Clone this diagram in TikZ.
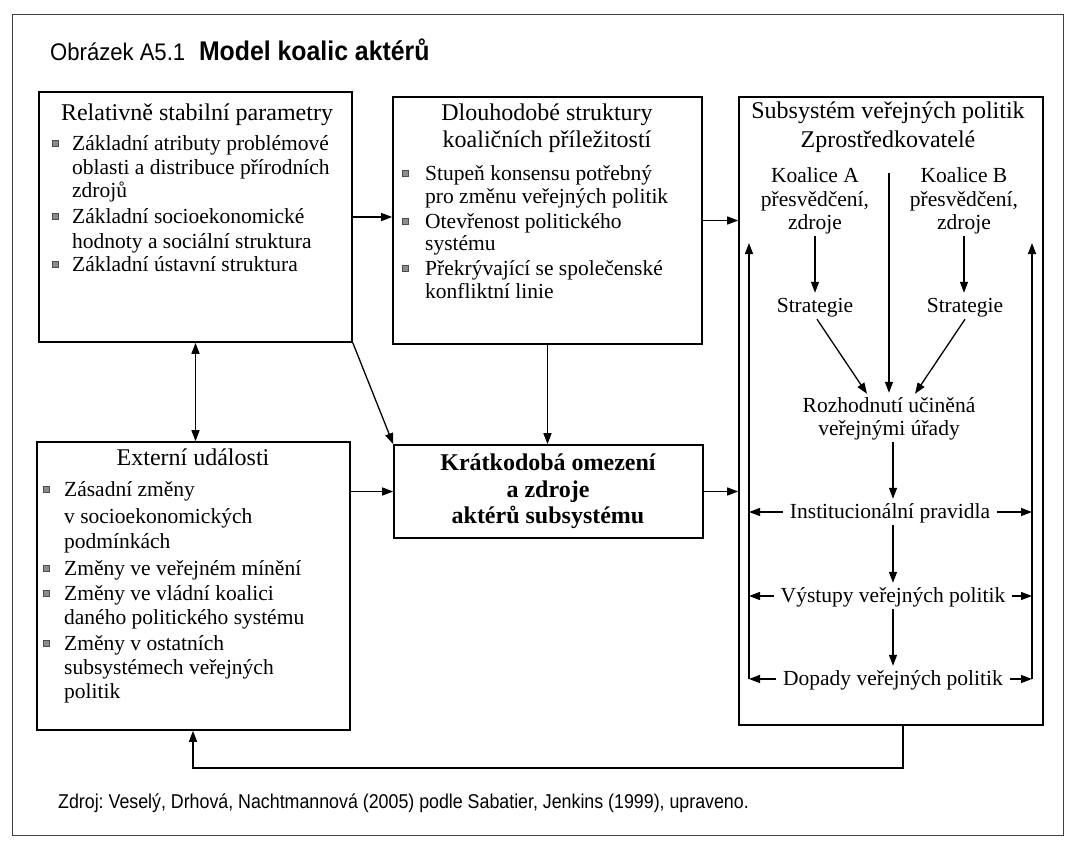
\documentclass[tikz,border=0pt]{standalone}
\usepackage{fontspec}
\usepackage{graphicx}
\setmainfont{Liberation Serif}
\setsansfont{Liberation Sans}
\usetikzlibrary{arrows.meta}
\frenchspacing
\begin{document}
\begin{tikzpicture}[x=1pt,y=-1pt,
  box/.style={draw, line width=1.6pt, inner sep=0pt, rectangle},
  arr/.style={line width=1.3pt, -{Triangle[length=11pt,width=8pt]}},
  darr/.style={line width=1.3pt, {Triangle[length=11pt,width=8pt]}-{Triangle[length=11pt,width=8pt]}},
  ttl/.style={font=\fontsize{24}{27}\selectfont, inner sep=0pt, anchor=base},
  txt/.style={font=\fontsize{21.5}{24}\selectfont, inner sep=0pt, anchor=base west},
  bld/.style={font=\fontsize{24}{27}\selectfont\bfseries, inner sep=0pt, anchor=base},
  lbl/.style={font=\fontsize{21.5}{24}\selectfont, inner xsep=7pt, inner ysep=3pt, text height=16pt, text depth=4pt, anchor=base},
  bul/.style={draw=black!70, fill=black!45, minimum size=6pt, inner sep=0pt, line width=0.6pt},
]
\useasboundingbox (0,0) rectangle (1066,841);
\fill[white] (0,0) rectangle (1066,841);
% outer frame
\draw[black!75, line width=0.8pt] (12,14) rectangle (1063,835);

% title
\node[font=\sffamily\fontsize{24}{28}\selectfont, inner sep=0pt, anchor=base west] (title) at (50,60)
  {\scalebox{0.92}[1]{Obrázek A5.1\hspace{15pt}{\fontsize{27}{30}\selectfont\bfseries Model koalic aktérů}}};

% boxes
\node[box, minimum width=313pt, minimum height=250pt] (box1) at (195.5,217) {};
\node[box, minimum width=309pt, minimum height=247pt] (box2) at (547.5,220.5) {};
\node[box, minimum width=304pt, minimum height=628pt] (box3) at (891,411) {};
\node[box, minimum width=313pt, minimum height=288pt] (box4) at (193.5,586) {};
\node[box, minimum width=309pt, minimum height=93pt] (box5) at (548.5,491.5) {};

% box1 content
\node[ttl] (b1t) at (197,120) {Relativně stabilní parametry};
\node[bul] (b1s1) at (55,143) {};
\node[txt] (b1a1) at (72,150) {Základní atributy problémové};
\node[txt] (b1a2) at (72,174) {oblasti a distribuce přírodních};
\node[txt] (b1a3) at (72,197) {zdrojů};
\node[bul] (b1s2) at (55,216) {};
\node[txt] (b1b1) at (72,223) {Základní socioekonomické};
\node[txt] (b1b2) at (72,248) {hodnoty a sociální struktura};
\node[bul] (b1s3) at (55,264) {};
\node[txt] (b1c1) at (72,271) {Základní ústavní struktura};

% box2 content
\node[ttl] (b2t1) at (547,120) {Dlouhodobé struktury};
\node[ttl] (b2t2) at (547,147) {koaličních příležitostí};
\node[bul] (b2s1) at (405,173) {};
\node[txt] (b2a1) at (425,180) {Stupeň konsensu potřebný};
\node[txt] (b2a2) at (425,203) {pro změnu veřejných politik};
\node[bul] (b2s2) at (405,221) {};
\node[txt] (b2b1) at (425,228) {Otevřenost politického};
\node[txt] (b2b2) at (425,250) {systému};
\node[bul] (b2s3) at (405,268) {};
\node[txt] (b2c1) at (425,275) {Překrývající se společenské};
\node[txt] (b2c2) at (425,298) {konfliktní linie};

% box4 content
\node[ttl] (b4t) at (193,465) {Externí události};
\node[bul] (b4s1) at (46,489) {};
\node[txt] (b4a1) at (64,496) {Zásadní změny};
\node[txt] (b4a2) at (64,523) {v socioekonomických};
\node[txt] (b4a3) at (64,548) {podmínkách};
\node[bul] (b4s2) at (46,568) {};
\node[txt] (b4b1) at (64,575) {Změny ve veřejném mínění};
\node[bul] (b4s3) at (46,593) {};
\node[txt] (b4c1) at (64,600) {Změny ve vládní koalici};
\node[txt] (b4c2) at (64,624) {daného politického systému};
\node[bul] (b4s4) at (46,643) {};
\node[txt] (b4d1) at (64,650) {Změny v ostatních};
\node[txt] (b4d2) at (64,674) {subsystémech veřejných};
\node[txt] (b4d3) at (64,698) {politik};

% box5 content
\node[bld] (b5a) at (548,470) {Krátkodobá omezení};
\node[bld] (b5b) at (548,497) {a zdroje};
\node[bld] (b5c) at (548,523) {aktérů subsystému};

% box3 content
\node[ttl] (b3t1) at (888,118) {Subsystém veřejných politik};
\node[ttl] (b3t2) at (888,147) {Zprostředkovatelé};
\node[lbl] (ka1) at (815,182) {Koalice A};
\node[lbl] (ka2) at (815,206) {přesvědčení,};
\node[lbl] (ka3) at (815,229) {zdroje};
\node[lbl] (kb1) at (964,182) {Koalice B};
\node[lbl] (kb2) at (964,206) {přesvědčení,};
\node[lbl] (kb3) at (964,229) {zdroje};
\node[lbl] (sa) at (815,312) {Strategie};
\node[lbl] (sb) at (965,312) {Strategie};
\node[lbl] (roz1) at (889,412) {Rozhodnutí učiněná};
\node[lbl] (roz2) at (889,435) {veřejnými úřady};
\node[lbl] (inst) at (890,518) {Institucionální pravidla};
\node[lbl] (vys) at (893,602) {Výstupy veřejných politik};
\node[lbl] (dop) at (893,685) {Dopady veřejných politik};
\coordinate (midtop) at (889,173);
\coordinate (lbt) at (749,243);
\coordinate (rbt) at (1032,243);

% arrows inside box3
\draw[arr] (ka3.south) -- (ka3.south |- sa.north);
\draw[arr] (kb3.south) -- (kb3.south |- sb.north);
\draw[arr] (midtop) -- (midtop |- roz1.north);
\draw[arr] ([xshift=2pt]sa.south) -- ([xshift=-22pt,yshift=-1pt]roz1.north);
\draw[arr] (sb.south) -- ([xshift=26pt,yshift=-1pt]roz1.north);
\draw[arr] ([xshift=4pt]roz2.south) -- ([xshift=3pt]inst.north);
\draw[arr] ([xshift=3pt]inst.south) -- ([xshift=3pt]inst.south |- vys.north);
\draw[arr] (vys.south) -- (vys.south |- dop.north);
\draw[arr] (dop.west -| lbt) -- (lbt);
\draw[arr] (dop.east -| rbt) -- (rbt);
\draw[arr] (inst.west) -- (inst.west -| lbt);
\draw[arr] (vys.west) -- (vys.west -| lbt);
\draw[arr] (dop.west) -- (dop.west -| lbt);
\draw[arr] (inst.east) -- (inst.east -| rbt);
\draw[arr] (vys.east) -- (vys.east -| rbt);
\draw[arr] (dop.east) -- (dop.east -| rbt);

% arrows between boxes
\draw[arr] (box1.east) -- (box1.east -| box2.west);
\draw[arr] (box2.east) -- (box2.east -| box3.west);
\draw[arr] (box5.west -| box4.east) -- (box5.west);
\draw[arr] (box5.east) -- (box5.east -| box3.west);
\draw[darr] (box1.south) -- (box1.south |- box4.north);
\draw[arr] (box1.south east) -- (box5.north west);
\draw[arr] (box2.south) -- (box2.south |- box5.north);
\coordinate (fb1) at (903,768);
\coordinate (fb2) at (193,768);
\draw[arr] (box3.south -| fb1) -- (fb1) -- (fb2) -- (fb2 |- box4.south);

% caption
\node[font=\sffamily\fontsize{20}{23}\selectfont, inner sep=0pt, anchor=base west] (cap) at (58,808)
  {\scalebox{0.89}[1]{Zdroj: Veselý, Drhová, Nachtmannová (2005) podle Sabatier, Jenkins (1999), upraveno.}};
\end{tikzpicture}
\end{document}
